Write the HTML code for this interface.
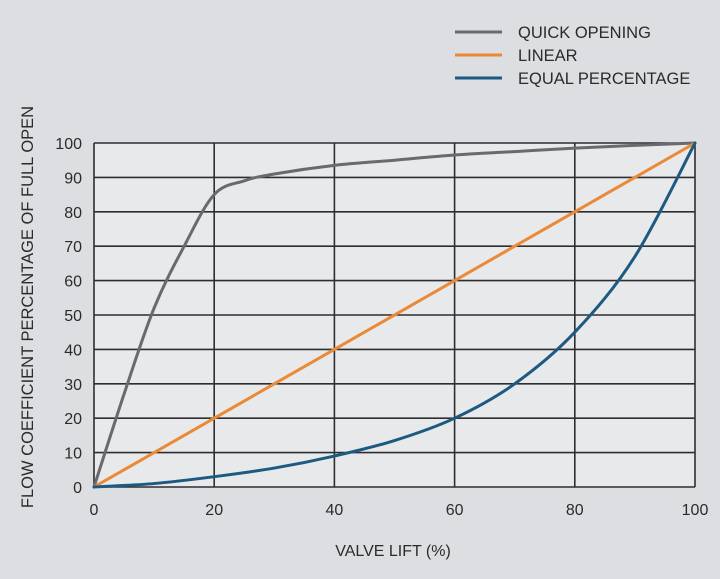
<!DOCTYPE html>
<html><head><meta charset="utf-8"><style>
body{margin:0;background:#dcdee1;}
svg{display:block;font-family:"Liberation Sans",Arial,sans-serif;}
</style></head><body>
<svg id="chart" width="720" height="579" viewBox="0 0 720 579">
<rect x="0" y="0" width="720" height="579" fill="#dcdee1"/>
<g id="plot"></g>
<g id="legend"></g>
<text x="393" y="556" font-size="16" fill="#2b2b2b" text-anchor="middle">VALVE LIFT (%)</text>
<text transform="translate(33,307) rotate(-90)" font-size="16.5" fill="#2b2b2b" text-anchor="middle">FLOW COEFFICIENT PERCENTAGE OF FULL OPEN</text>
</svg>
<script>
const xTicks=[0,20,40,60,80,100];
const yTicks=[0,10,20,30,40,50,60,70,80,90,100];
const quickX=[0,5,10,15,20,25,30,40,50,60,70,80,90,100];
const quickY=[0,27,52,70,85,89,91,93.5,95,96.5,97.5,98.5,99.3,100];
const linearX=[0,100];
const linearY=[0,100];
const equalX=[0,10,20,30,40,50,60,70,80,90,100];
const equalY=[0,1,3,5.5,9,13.5,20,30,45,67,100];
const seriesNames=["QUICK OPENING","LINEAR","EQUAL PERCENTAGE"];
const seriesColors=["#6a696e","#ea8a37","#1d5a82"];

const NS="http://www.w3.org/2000/svg";
const L=94,R=695,T=143,B=487;
const sx=v=>L+(v-0)/100*(R-L);
const sy=v=>B-(v-0)/100*(B-T);
const plot=document.getElementById('plot');
function mk(tag,attrs,parent){const e=document.createElementNS(NS,tag);for(const k in attrs)e.setAttribute(k,attrs[k]);parent.appendChild(e);return e;}
const bg=mk('rect',{x:L,y:T,width:R-L,height:B-T,fill:'#e8e9eb'},plot);


yTicks.forEach(v=>{
  const l=mk('line',{x1:L,x2:R,y1:sy(v),y2:sy(v),stroke:'#2e2e30','stroke-width':1.6},plot);
  
  
  const t=mk('text',{x:L-12,y:sy(v)+6,'font-size':16,fill:'#2b2b2b','text-anchor':'end'},plot);
  t.textContent=v;
  
  
});
xTicks.forEach(v=>{
  const l=mk('line',{x1:sx(v),x2:sx(v),y1:T,y2:B,stroke:'#2e2e30','stroke-width':1.6},plot);
  
  
  const t=mk('text',{x:sx(v),y:B+28,'font-size':16,fill:'#2b2b2b','text-anchor':'middle'},plot);
  t.textContent=v;
  
  
});
function smooth(xs,ys){
  const p=xs.map((x,i)=>[sx(x),sy(ys[i])]);
  if(p.length<3)return 'M'+p.map(q=>q.join(',')).join(' L');
  let d='M'+p[0][0]+','+p[0][1];
  for(let i=0;i<p.length-1;i++){
    const p0=p[Math.max(0,i-1)],p1=p[i],p2=p[i+1],p3=p[Math.min(p.length-1,i+2)];
    const c1=[p1[0]+(p2[0]-p0[0])/6,p1[1]+(p2[1]-p0[1])/6];
    const c2=[p2[0]-(p3[0]-p1[0])/6,p2[1]-(p3[1]-p1[1])/6];
    d+=` C${c1[0]},${c1[1]} ${c2[0]},${c2[1]} ${p2[0]},${p2[1]}`;
  }
  return d;
}
const data=[[quickX,quickY],[linearX,linearY],[equalX,equalY]];
const names=['quick-opening-line','linear-line','equal-percentage-line'];
data.forEach((s,i)=>{
  const p=mk('path',{d:smooth(s[0],s[1]),fill:'none',stroke:seriesColors[i],'stroke-width':3,'stroke-linejoin':'round','stroke-linecap':'round'},plot);
  
  
});
const lg=document.getElementById('legend');
seriesNames.forEach((n,i)=>{
  const y=32+i*23;
  const l=mk('line',{x1:455,x2:502,y1:y,y2:y,stroke:seriesColors[i],'stroke-width':3},lg);
  
  
  const t=mk('text',{x:518,y:y+6,'font-size':16.5,fill:'#2b2b2b'},lg);
  t.textContent=n;
  
  
});
</script>
</body></html>
